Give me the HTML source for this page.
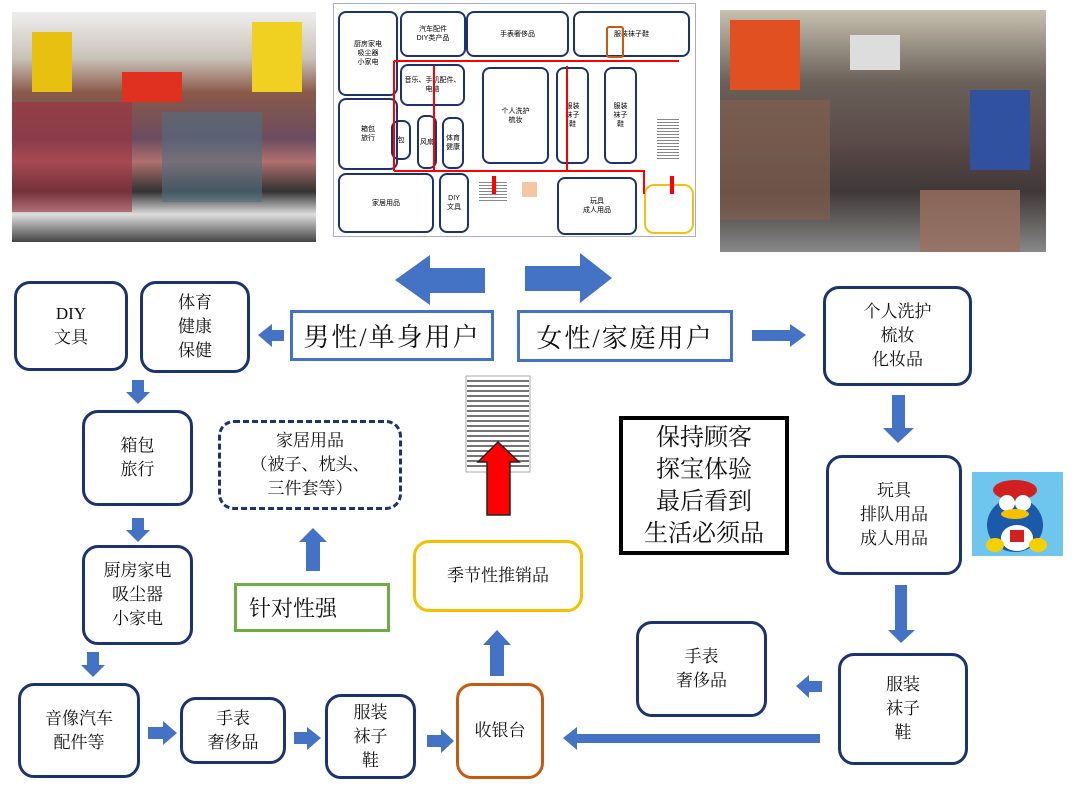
<!DOCTYPE html>
<html><head><meta charset="utf-8"><style>
body{margin:0;background:#fff;width:1080px;height:800px;position:relative;overflow:hidden;font-family:"Liberation Serif","Noto Serif CJK SC",serif;}
.a{position:absolute}
.b{position:absolute;box-sizing:border-box;border:3.5px solid #1b3470;border-radius:16px;display:flex;align-items:center;justify-content:center;text-align:center;font-size:17px;line-height:24px;color:#111;background:#fff}
.r{position:absolute;box-sizing:border-box;display:flex;align-items:center;justify-content:center;text-align:center;color:#111}
.fp{position:absolute;box-sizing:border-box;border:2px solid #1b3470;border-radius:8px;font-size:7px;display:flex;align-items:center;justify-content:center;text-align:center;font-family:"Liberation Sans","Noto Sans CJK SC",sans-serif;line-height:9px}
</style></head><body>
<!-- left photo -->
<div class="a" style="left:12px;top:12px;width:304px;height:230px;background:linear-gradient(180deg,#eee 0%,#c9c2b8 20%,#8a5a4a 35%,#6b4c60 55%,#b07070 65%,#333 78%,#ddd 88%,#444 100%);overflow:hidden">
<div class="a" style="left:20px;top:20px;width:40px;height:60px;background:#e8c010"></div>
<div class="a" style="left:110px;top:60px;width:60px;height:30px;background:#e03020"></div>
<div class="a" style="left:240px;top:10px;width:50px;height:70px;background:#f0d020"></div>
<div class="a" style="left:0;top:90px;width:120px;height:110px;background:#a03040;opacity:.6"></div>
<div class="a" style="left:150px;top:100px;width:100px;height:90px;background:#507080;opacity:.6"></div>
</div>
<!-- right photo -->
<div class="a" style="left:720px;top:10px;width:326px;height:242px;background:linear-gradient(180deg,#c8c0b0 0%,#6a6058 30%,#5a4a48 55%,#403838 75%,#888 100%);overflow:hidden">
<div class="a" style="left:10px;top:10px;width:70px;height:70px;background:#e05020"></div>
<div class="a" style="left:130px;top:25px;width:50px;height:35px;background:#ddd"></div>
<div class="a" style="left:250px;top:80px;width:60px;height:80px;background:#3050a0"></div>
<div class="a" style="left:0;top:90px;width:110px;height:120px;background:#806050;opacity:.7"></div>
<div class="a" style="left:200px;top:180px;width:100px;height:62px;background:#9a7060;opacity:.8"></div>
</div>
<!-- floor plan -->
<div class="a" style="left:333px;top:3px;width:363px;height:234px;background:#fff;border:1px solid #aac;box-sizing:border-box">
<div class="fp" style="left:4px;top:7px;width:60px;height:85px">厨房家电<br>吸尘器<br>小家电</div>
<div class="fp" style="left:4px;top:94px;width:60px;height:72px">箱包<br>旅行</div>
<div class="fp" style="left:66px;top:7px;width:66px;height:46px">汽车配件<br>DIY类产品</div>
<div class="fp" style="left:132px;top:7px;width:103px;height:46px">手表奢侈品</div>
<div class="fp" style="left:239px;top:7px;width:117px;height:46px">服装袜子鞋</div>
<div class="a" style="left:272px;top:22px;width:14px;height:28px;border:2px solid #c55a11;border-radius:3px"></div>
<div class="fp" style="left:66px;top:60px;width:65px;height:42px">音乐、手机配件、电脑</div>
<div class="fp" style="left:148px;top:63px;width:67px;height:97px">个人洗护<br>梳妆</div>
<div class="fp" style="left:222px;top:63px;width:33px;height:97px">服装<br>袜子<br>鞋</div>
<div class="fp" style="left:270px;top:63px;width:33px;height:97px">服装<br>袜子<br>鞋</div>
<div class="fp" style="left:57px;top:116px;width:20px;height:40px">包</div>
<div class="fp" style="left:83px;top:111px;width:20px;height:54px">风扇</div>
<div class="fp" style="left:108px;top:113px;width:22px;height:52px">体育<br>健康</div>
<div class="fp" style="left:4px;top:169px;width:96px;height:60px">家居用品</div>
<div class="fp" style="left:105px;top:169px;width:30px;height:60px">DIY<br>文具</div>
<div class="fp" style="left:223px;top:173px;width:80px;height:58px">玩具<br>成人用品</div>
<div class="a" style="left:310px;top:180px;width:50px;height:50px;border:2px solid #f2c012;border-radius:10px;box-sizing:border-box"></div>
<div class="a" style="left:145px;top:178px;width:28px;height:20px;background:repeating-linear-gradient(#888 0 1px,#fff 1px 3px)"></div>
<div class="a" style="left:188px;top:178px;width:15px;height:15px;background:#f5c6a0"></div>
<div class="a" style="left:323px;top:115px;width:22px;height:40px;background:repeating-linear-gradient(#888 0 1px,#fff 1px 3px)"></div>
<svg class="a" style="left:0;top:0" width="363" height="234">
<g stroke="#f00" stroke-width="2" fill="none">
<polyline points="60,57 345,57"/><polyline points="60,167 310,167 310,190"/><line x1="60" y1="57" x2="60" y2="167"/>
<line x1="100" y1="167" x2="100" y2="62"/><line x1="233" y1="167" x2="233" y2="62"/>
<line x1="160" y1="172" x2="160" y2="190" stroke-width="4"/><line x1="338" y1="172" x2="338" y2="190" stroke-width="4"/>
</g></svg>
</div>

<svg class="a" style="left:0;top:0" width="1080" height="800">
<g fill="#4472c4">
<polygon points="395,280 430,255 430,268 485,268 485,293 430,293 430,305"/>
<polygon points="612,278 580,253 580,266 525,266 525,291 580,291 580,303"/>
<polygon points="258,335 272,324 272,330 284,330 284,341 272,341 272,347"/>
<polygon points="806,335 790,324 790,330 752,330 752,341 790,341 790,347"/>
<polygon points="138,404 126,392 132,392 132,380 144,380 144,392 150,392"/>
<polygon points="138,542 126,530 132,530 132,518 144,518 144,530 150,530"/>
<polygon points="93,677 81,665 87,665 87,652 99,652 99,665 105,665"/>
<polygon points="898,443 883,428 892,428 892,395 905,395 905,428 914,428"/>
<polygon points="901,643 888,630 895,630 895,585 907,585 907,630 915,630"/>
<polygon points="313,528 299,542 306,542 306,571 320,571 320,542 327,542"/>
<polygon points="497,630 483,645 490,645 490,676 504,676 504,645 511,645"/>
<polygon points="177,733 163,721 163,727 148,727 148,739 163,739 163,745"/>
<polygon points="321,738 307,727 307,732 294,732 294,744 307,744 307,750"/>
<polygon points="454,741 441,729 441,735 427,735 427,747 441,747 441,753"/>
<polygon points="796,686 809,675 809,681 822,681 822,692 809,692 809,698"/>
<polygon points="563,738 577,727 577,734 820,734 820,743 577,743 577,750"/>
</g>
<rect x="466" y="376" width="64" height="96" fill="#fff" stroke="#aaa"/>
<g stroke="#222" stroke-width="1.2">
<line x1="467" y1="381" x2="529" y2="381"/><line x1="467" y1="386" x2="529" y2="386"/><line x1="467" y1="391" x2="529" y2="391"/><line x1="467" y1="396" x2="529" y2="396"/><line x1="467" y1="401" x2="529" y2="401"/><line x1="467" y1="406" x2="529" y2="406"/><line x1="467" y1="411" x2="529" y2="411"/><line x1="467" y1="416" x2="529" y2="416"/><line x1="467" y1="421" x2="529" y2="421"/><line x1="467" y1="426" x2="529" y2="426"/><line x1="467" y1="431" x2="529" y2="431"/><line x1="467" y1="436" x2="529" y2="436"/><line x1="467" y1="441" x2="529" y2="441"/><line x1="467" y1="446" x2="529" y2="446"/><line x1="467" y1="451" x2="529" y2="451"/><line x1="467" y1="456" x2="529" y2="456"/><line x1="467" y1="461" x2="529" y2="461"/><line x1="467" y1="466" x2="529" y2="466"/>
</g>
<polygon points="498,442 478,462 487,462 487,515 510,515 510,462 519,462" fill="#f00" stroke="#222" stroke-width="1.5"/>
<!-- mascot -->
<rect x="972" y="472" width="91" height="84" fill="#6ec6ee"/>
<ellipse cx="1015" cy="525" rx="28" ry="27" fill="#1a5aa8"/>
<ellipse cx="1015" cy="490" rx="22" ry="10" fill="#d02020"/>
<circle cx="1007" cy="503" r="8" fill="#fff"/><circle cx="1023" cy="503" r="8" fill="#fff"/>
<ellipse cx="1015" cy="514" rx="14" ry="5" fill="#f5c000"/>
<ellipse cx="1017" cy="538" rx="16" ry="13" fill="#fff"/>
<rect x="1010" y="530" width="14" height="12" fill="#d02020"/>
<ellipse cx="995" cy="545" rx="9" ry="7" fill="#f5d000"/><ellipse cx="1038" cy="545" rx="9" ry="7" fill="#f5d000"/>
</svg>

<div class="b" style="left:14px;top:281px;width:114px;height:90px">DIY<br>文具</div>
<div class="b" style="left:140px;top:281px;width:110px;height:92px">体育<br>健康<br>保健</div>
<div class="r" style="left:290px;top:310px;width:204px;height:51px;border:3px solid #4472c4;font-size:26px;letter-spacing:2px">男性/单身用户</div>
<div class="r" style="left:517px;top:310px;width:216px;height:52px;border:3px solid #4472c4;font-size:26px;letter-spacing:2px">女性/家庭用户</div>
<div class="b" style="left:823px;top:286px;width:149px;height:100px">个人洗护<br>梳妆<br>化妆品</div>
<div class="b" style="left:82px;top:410px;width:111px;height:96px">箱包<br>旅行</div>
<div class="b" style="left:218px;top:420px;width:184px;height:90px;border-style:dashed">家居用品<br>（被子、枕头、<br>三件套等）</div>
<div class="r" style="left:619px;top:416px;width:170px;height:139px;border:4px solid #000;font-size:24px;line-height:32px">保持顾客<br>探宝体验<br>最后看到<br>生活必须品</div>
<div class="b" style="left:826px;top:455px;width:136px;height:120px">玩具<br>排队用品<br>成人用品</div>
<div class="b" style="left:82px;top:545px;width:111px;height:100px">厨房家电<br>吸尘器<br>小家电</div>
<div class="r" style="left:234px;top:583px;width:156px;height:49px;border:3px solid #70ad47;font-size:22px;justify-content:flex-start;padding-left:12px">针对性强</div>
<div class="b" style="left:413px;top:540px;width:170px;height:72px;border-color:#f5c000">季节性推销品</div>
<div class="b" style="left:636px;top:621px;width:131px;height:96px">手表<br>奢侈品</div>
<div class="b" style="left:838px;top:653px;width:130px;height:112px">服装<br>袜子<br>鞋</div>
<div class="b" style="left:18px;top:683px;width:122px;height:95px">音像汽车<br>配件等</div>
<div class="b" style="left:180px;top:697px;width:106px;height:67px">手表<br>奢侈品</div>
<div class="b" style="left:325px;top:694px;width:91px;height:85px">服装<br>袜子<br>鞋</div>
<div class="b" style="left:456px;top:683px;width:88px;height:96px;border-color:#c55a11">收银台</div>
</body></html>
